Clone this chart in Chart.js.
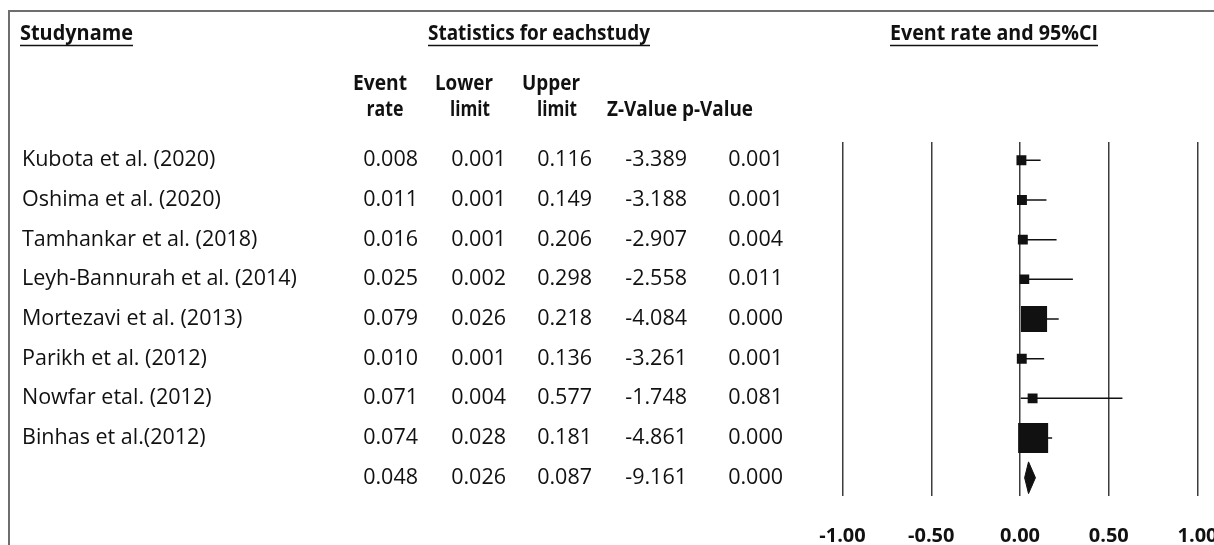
<!DOCTYPE html>
<html>
<head>
<meta charset="utf-8">
<title>Event rate and 95% CI</title>
<script src="https://cdn.jsdelivr.net/npm/chart.js@4.4.1/dist/chart.umd.min.js"></script>
<style>
  html, body { margin: 0; padding: 0; background: #fff; overflow: hidden; }
  #wrap { position: relative; width: 1214px; height: 545px; }
  #frame { position: absolute; left: 8px; top: 10px; right: 0; bottom: 0;
           border-top: 2px solid #6e6e6e; border-left: 2px solid #6e6e6e; }
  canvas { position: absolute; left: 0; top: 0; }
</style>
</head>
<body>
<div id="wrap">
  <div id="frame"></div>
  <canvas id="forest" width="1214" height="545"></canvas>
</div>
<script>
// ---- data (last row = pooled estimate) ----
const studyNames = [
  'Kubota et al. (2020)',
  'Oshima et al. (2020)',
  'Tamhankar et al. (2018)',
  'Leyh-Bannurah et al. (2014)',
  'Mortezavi et al. (2013)',
  'Parikh et al. (2012)',
  'Nowfar etal. (2012)',
  'Binhas et al.(2012)',
  ''
];
const eventRate  = [0.008, 0.011, 0.016, 0.025, 0.079, 0.010, 0.071, 0.074, 0.048];
const lowerLimit = [0.001, 0.001, 0.001, 0.002, 0.026, 0.001, 0.004, 0.028, 0.026];
const upperLimit = [0.116, 0.149, 0.206, 0.298, 0.218, 0.136, 0.577, 0.181, 0.087];
const zValue     = [-3.389, -3.188, -2.907, -2.558, -4.084, -3.261, -1.748, -4.861, -9.161];
const pValue     = [0.001, 0.001, 0.004, 0.011, 0.000, 0.001, 0.081, 0.000, 0.000];
// relative study weight (largest = 1), pooled row excluded
const relWeight  = [0.33, 0.33, 0.33, 0.32, 0.87, 0.33, 0.33, 1.00];
const xTicks     = [-1, -0.5, 0, 0.5, 1];

// ---- style ----
const INK = '#111111';
const GRID = '#3c3c3c';
const MAX_BOX = 30;        // px side of the heaviest study box
const DIAMOND_H = 0.4;     // half height of pooled diamond, in rows
const BODY = '21.5px "Open Sans", sans-serif';
const HEAD = 'bold 21px "Open Sans", sans-serif';

const pooled = eventRate.length - 1;

// текстова таблиця зліва + заголовки
const tablePlugin = {
  id: 'forestTable',
  afterDraw(chart) {
    const ctx = chart.ctx;
    const yScale = chart.scales.y;
    ctx.save();
    ctx.fillStyle = INK;
    ctx.strokeStyle = INK;
    ctx.lineWidth = 1.5;
    ctx.textBaseline = 'middle';

    // underlined titles
    const titles = [
      ['Studyname', 20, 113],
      ['Statistics for eachstudy', 428, 222],
      ['Event rate and 95%CI', 890, 208]
    ];
    ctx.font = HEAD;
    ctx.textAlign = 'left';
    titles.forEach(([txt, x, w]) => {
      ctx.fillText(txt, x, 34, w);
      ctx.beginPath();
      ctx.moveTo(x, 45.5);
      ctx.lineTo(x + w, 45.5);
      ctx.stroke();
    });

    // column headers
    ctx.textAlign = 'center';
    [['Event', 380, 84, 54], ['rate', 385, 110, 37],
     ['Lower', 464, 84, 58], ['limit', 470, 110, 40],
     ['Upper', 551, 84, 58], ['limit', 557, 110, 40]].forEach(([txt, x, y, w]) => {
      ctx.fillText(txt, x, y, w);
    });
    ctx.textAlign = 'left';
    ctx.fillText('Z-Value p-Value', 607, 110, 146);

    // rows
    ctx.font = BODY;
    eventRate.forEach((v, i) => {
      const py = yScale.getPixelForValue(i);
      ctx.textAlign = 'left';
      if (studyNames[i]) ctx.fillText(studyNames[i], 22, py);
      ctx.textAlign = 'right';
      ctx.fillText(v.toFixed(3), 418, py);
      ctx.fillText(lowerLimit[i].toFixed(3), 506, py);
      ctx.fillText(upperLimit[i].toFixed(3), 592, py);
      ctx.fillText(zValue[i].toFixed(3), 687, py);
      ctx.fillText(pValue[i].toFixed(3), 783, py);
    });
    ctx.restore();
  }
};

// лінії довірчих інтервалів
const whiskerSets = relWeight.map((w, i) => ({
  type: 'line',
  data: [{ x: lowerLimit[i], y: i }, { x: upperLimit[i], y: i }],
  borderColor: INK,
  borderWidth: 1.5,
  pointRadius: 0,
  fill: false,
  order: 2
}));

// квадрати (розмір за вагою)
const boxSet = {
  type: 'scatter',
  data: relWeight.map((w, i) => ({ x: eventRate[i], y: i })),
  pointStyle: 'rect',
  pointRadius: relWeight.map(w => w * MAX_BOX / Math.SQRT2),
  backgroundColor: INK,
  borderWidth: 0,
  order: 0
};

// ромб сумарної оцінки
const diamondSet = {
  type: 'line',
  data: [
    { x: lowerLimit[pooled], y: pooled },
    { x: eventRate[pooled], y: pooled - DIAMOND_H },
    { x: upperLimit[pooled], y: pooled },
    { x: eventRate[pooled], y: pooled + DIAMOND_H },
    { x: lowerLimit[pooled], y: pooled }
  ],
  borderColor: INK,
  borderWidth: 1,
  backgroundColor: INK,
  pointRadius: 0,
  fill: 'shape',
  tension: 0,
  order: 0
};

new Chart(document.getElementById('forest'), {
  type: 'scatter',
  data: { datasets: [...whiskerSets, boxSet, diamondSet] },
  options: {
    responsive: false,
    animation: false,
    devicePixelRatio: 1,
    layout: { autoPadding: false, padding: { left: 842.5, right: 16.5, top: 142, bottom: 0 } },
    plugins: { legend: { display: false }, tooltip: { enabled: false } },
    scales: {
      x: {
        type: 'linear',
        min: -1,
        max: 1,
        afterBuildTicks: s => { s.ticks = xTicks.map(v => ({ value: v })); },
        afterFit: s => { s.paddingLeft = 0; s.paddingRight = 0; s.height = 49; },
        ticks: {
          color: INK,
          font: { family: '"Open Sans", sans-serif', weight: 'bold', size: 20 },
          padding: 28,
          maxRotation: 0,
          autoSkip: false,
          callback: v => Number(v).toFixed(2)
        },
        grid: { color: GRID, lineWidth: 1.5, drawTicks: false },
        border: { display: false }
      },
      y: {
        type: 'linear',
        display: false,
        reverse: true,
        min: -0.46,
        max: pooled + 0.46
      }
    }
  },
  plugins: [tablePlugin]
});
</script>
</body>
</html>
